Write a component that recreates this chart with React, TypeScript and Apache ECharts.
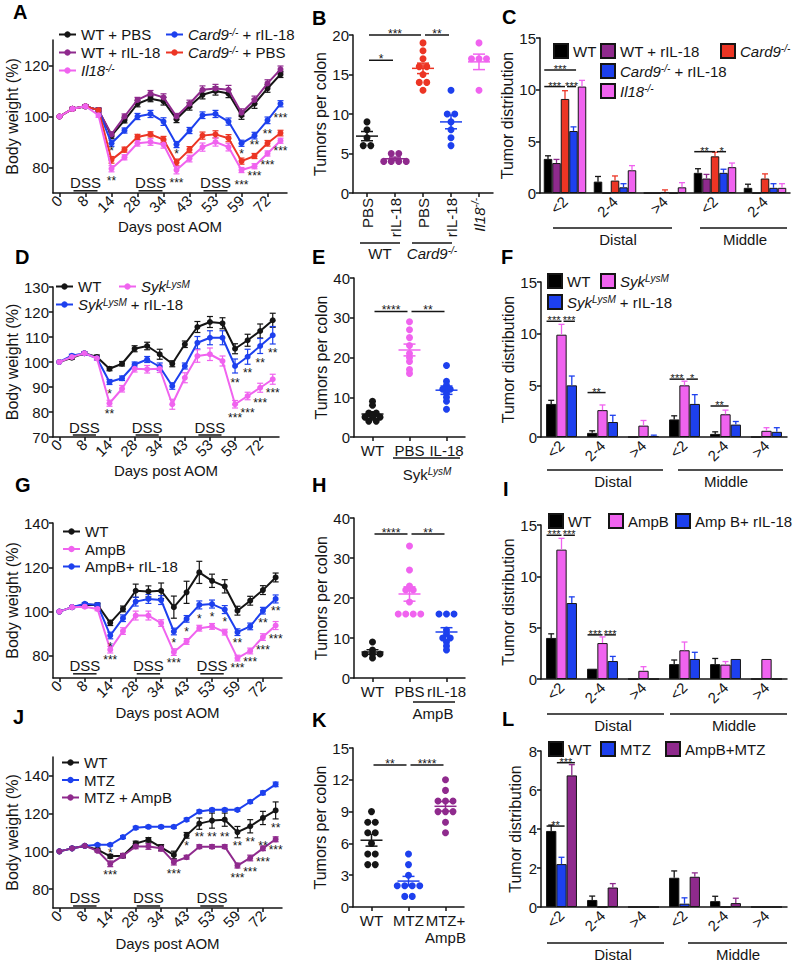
import React, { useEffect, useRef } from 'react';
import * as echarts from 'echarts';

const FONT = '"Liberation Sans", Arial, Helvetica, sans-serif';
const INK = '#151515';
const PURPLE = '#8f2a8d';
const RED = '#ec3524';
const BLUE = '#1d40ee';
const PINK = '#f063ef';

// ---------- tick labels ----------
const dayLabels = ['0', '8', '14', '28', '34', '43', '53', '59', '72'];
const sizeLabels = ['<2', '2-4', '>4'];
const dssAt = [2, 7, 12];

// ---------- Panel A ----------
const aWtPbs = [100, 103, 104, 102.5, 92.5, 98.5, 105, 107, 106, 99, 104, 108.5, 110, 109, 100.5, 105, 111, 116.5];
const aWtPbsErr = [0, 0.6, 0.6, 0.8, 1.2, 1.0, 1.2, 1.2, 1.5, 1.4, 1.5, 1.6, 1.6, 1.6, 1.6, 1.8, 1.5, 1.2];
const aWtIl18 = [100, 103, 104, 102.5, 93, 100, 106.5, 109, 107.5, 100, 105, 110.5, 111, 110.5, 101.5, 106.5, 113, 118.5];
const aWtIl18Err = [0, 0.6, 0.6, 0.8, 1.0, 1.0, 1.0, 1.2, 1.4, 1.2, 1.4, 1.5, 1.6, 1.7, 1.5, 1.5, 1.4, 1.3];
const aCard9Il18 = [100, 103, 104, 102.5, 89.5, 94.5, 100, 101, 98, 89, 94.5, 100.5, 101, 98, 89.5, 92.5, 98.5, 105];
const aCard9Il18Err = [0, 0.5, 0.6, 0.7, 1.2, 1.0, 1.2, 1.4, 1.5, 1.2, 1.2, 1.3, 1.4, 1.4, 1.2, 1.3, 1.3, 1.2];
const aCard9Pbs = [100, 103, 104, 102.5, 83, 87, 92, 93, 91, 82, 87, 92.5, 93, 91.5, 82.5, 84.5, 89.5, 93.5];
const aCard9PbsErr = [0, 0.5, 0.5, 0.7, 1.3, 1.0, 1.0, 1.0, 1.2, 1.3, 1.2, 1.4, 1.4, 1.4, 1.2, 1.0, 1.1, 1.1];
const aIl18 = [100, 103, 104, 100.5, 79.5, 84, 89.5, 90, 89, 79, 83.5, 88, 90, 88, 79, 80.5, 85.5, 90.5];
const aIl18Err = [0, 0.5, 0.5, 0.8, 1.2, 1.0, 1.1, 1.3, 1.4, 1.5, 1.3, 1.6, 1.6, 1.5, 1.0, 1.0, 1.0, 1.0];
const aStars: [number, number, string][] = [[4, 87.5, '*'], [4, 76, '**'], [9, 86.5, '*'], [9, 75, '***'], [14, 86.5, '*'], [14, 74.5, '***'], [15, 90, '**'], [15, 78, '***'], [16, 94.5, '**'], [16, 82, '***'], [17, 100.5, '***'], [17, 87.5, '***']];

// ---------- Panel B ----------
const bWtPbs = [9, 8, 7, 6, 6];
const bWtIl18 = [5, 5, 4, 4, 4, 4];
const bCard9Pbs = [19, 18, 17, 16, 16, 15, 14, 14, 13];
const bCard9Il18 = [13, 10, 10, 9, 8, 7, 6];
const bIl18 = [19, 17, 17, 17, 13];
const bLabels = ['PBS', 'rIL-18', 'PBS', 'rIL-18', '{i|Il18}{s|-/-}'];
const bSig: [number, number, number, string][] = [[0, 2, 20, '***'], [2, 3, 20, '**'], [0, 1, 16.8, '*']];

// ---------- Panel C ----------
const cWt = [3.3, 1.1, 0, 1.95, 0.5];
const cWtErr = [0.3, 0.5, 0, 0.4, 0.35];
const cWtIl18 = [2.9, 0, 0, 1.4, 0];
const cWtIl18Err = [0.35, 0, 0, 0.4, 0];
const cCard9 = [9.1, 1.2, 0.1, 3.55, 1.4];
const cCard9Err = [0.8, 0.45, 0.2, 0.4, 0.45];
const cCard9Il18 = [6.0, 0.55, 0, 1.95, 0.5];
const cCard9Il18Err = [0.4, 0.35, 0, 0.35, 0.4];
const cIl18 = [10.3, 2.2, 0.55, 2.5, 0.5];
const cIl18Err = [0.6, 0.45, 0.45, 0.4, 0.4];
const cSig: [number, number, number, number, string][] = [[0, 0, 3, 11.9, '***'], [0, 0, 2, 10.3, '***'], [0, 2, 3, 10.3, '***'], [3, 0, 2, 4.0, '**'], [3, 2, 3, 4.0, '*']];

// ---------- Panel D ----------
const dWt = [100, 101.7, 103.5, 102, 97.3, 99.3, 105.3, 106.4, 103.1, 99.3, 107.1, 114, 116, 115.5, 105.3, 108.7, 112.4, 116.7];
const dWtErr = [0, 0.6, 0.6, 0.8, 0.8, 0.9, 1.2, 1.5, 2.0, 1.2, 1.3, 2.2, 2.2, 2.2, 2.0, 2.4, 2.8, 2.8];
const dSyk = [100, 102, 103.5, 101.5, 83.5, 89.3, 97.3, 97.1, 97.3, 83.1, 93.7, 102.4, 103.1, 100.4, 83.1, 86.4, 89.7, 93.1];
const dSykErr = [0, 0.6, 0.6, 0.8, 1.2, 1.3, 1.3, 1.5, 1.5, 2.0, 2.0, 2.5, 2.5, 2.0, 1.5, 1.5, 1.8, 2.0];
const dSykIl18 = [100, 102.5, 103.5, 101.5, 92, 93.5, 99, 101, 98.1, 90.4, 98.4, 107.7, 109.7, 109.7, 98.4, 102.1, 106.4, 110.7];
const dSykIl18Err = [0, 0.6, 0.6, 0.8, 1.0, 0.9, 1.0, 1.2, 1.5, 1.3, 1.2, 2.5, 2.8, 2.8, 2.8, 3.0, 3.0, 3.5];
const dStars: [number, number, string][] = [[4, 88.5, '*'], [4, 80.5, '**'], [14, 93, '**'], [14, 79, '***'], [15, 97, '**'], [15, 81, '***'], [16, 101, '**'], [16, 85, '***'], [17, 105, '**'], [17, 89, '***']];

// ---------- Panel E ----------
const eWt = [9, 8, 6, 6, 5, 5, 5, 4, 4];
const eSyk = [29, 27, 25, 23, 21, 20, 19, 17, 16];
const eSykIl18 = [18, 14, 13, 12, 12, 11, 10, 9, 7];
const eLabels = ['WT', 'PBS', 'IL-18'];
const eSig: [number, number, number, string][] = [[0, 1, 31.6, '****'], [1, 2, 31.6, '**']];

// ---------- Panel F ----------
const fWt = [3.2, 0.4, 0, 1.7, 0.3, 0];
const fWtErr = [0.35, 0.2, 0, 0.35, 0.2, 0];
const fSyk = [9.9, 2.6, 1.1, 5.0, 2.2, 0.6];
const fSykErr = [1.0, 0.5, 0.5, 0.4, 0.4, 0.3];
const fSykIl18 = [5.0, 1.45, 0.1, 3.2, 1.2, 0.5];
const fSykIl18Err = [0.9, 0.65, 0.08, 0.9, 0.3, 0.4];
const fSig: [number, number, number, number, string][] = [[0, 0, 1, 11.2, '***'], [0, 1, 2, 11.2, '***'], [1, 0, 1, 4.3, '**'], [3, 0, 1, 5.6, '***'], [3, 1, 2, 5.6, '*'], [4, 0, 1, 3.0, '**']];

// ---------- Panel G ----------
const gWt = [100, 102, 103.1, 103, 94.9, 101.2, 109.4, 109.1, 109.4, 102, 108.7, 117.7, 113.9, 111.4, 100.4, 104.9, 109.7, 115.4];
const gWtErr = [0, 0.6, 0.8, 0.8, 1.2, 1.3, 3.0, 2.5, 3.5, 5.0, 5.0, 5.0, 3.0, 3.0, 2.0, 2.0, 2.0, 2.0];
const gAmpB = [100, 102, 102.2, 101.2, 82.8, 91.2, 98.2, 98.2, 94.8, 81.7, 86.5, 92.5, 93.3, 90.7, 79, 82.2, 88.5, 93.7];
const gAmpBErr = [0, 0.6, 0.6, 0.8, 1.5, 1.5, 2.0, 2.0, 1.5, 1.5, 1.3, 1.3, 1.3, 1.3, 1.3, 1.3, 1.5, 1.8];
const gAmpBIl18 = [100, 102, 103.5, 103, 89.2, 97, 104.5, 105.7, 105.2, 91, 96.7, 103, 103.4, 100.9, 90.7, 93.3, 100.4, 105.7];
const gAmpBIl18Err = [0, 0.6, 0.6, 0.8, 1.5, 1.5, 2.0, 2.0, 2.0, 1.5, 1.5, 1.8, 1.8, 1.8, 1.5, 1.5, 1.5, 1.8];
const gStars: [number, number, string][] = [[4, 85.5, '*'], [4, 79.5, '***'], [9, 87.3, '*'], [9, 78.3, '***'], [10, 92.2, '*'], [11, 98.2, '*'], [12, 98.7, '*'], [13, 96.7, '*'], [14, 87, '**'], [14, 75.7, '***'], [15, 78.7, '***'], [16, 96.4, '**'], [16, 84, '***'], [17, 101.6, '**'], [17, 88.9, '***']];

// ---------- Panel H ----------
const hWt = [9, 7, 6, 6, 6, 5];
const hAmpB = [33, 27, 23, 22, 22, 19, 16, 16, 16, 16];
const hAmpBIl18 = [16, 16, 16, 12, 11, 10, 10, 9, 8, 7];
const hLabels = ['WT', 'PBS', 'rIL-18'];
const hSig: [number, number, number, string][] = [[0, 1, 36, '****'], [1, 2, 36, '**']];

// ---------- Panel I ----------
const iWt = [4.0, 1.0, 0, 1.45, 1.45, 0];
const iWtErr = [0.4, 0, 0, 0.4, 0.55, 0];
const iAmpB = [12.6, 3.5, 0.8, 2.8, 1.4, 1.95];
const iAmpBErr = [1.1, 0.6, 0.4, 0.8, 0.3, 0];
const iAmpBIl18 = [7.4, 1.75, 0, 1.95, 1.95, 0];
const iAmpBIl18Err = [0.6, 0.45, 0, 0.65, 0, 0];
const iSig: [number, number, number, number, string][] = [[0, 0, 1, 14.0, '***'], [0, 1, 2, 14.0, '***'], [1, 0, 1, 4.3, '***'], [1, 1, 2, 4.3, '***']];

// ---------- Panel J ----------
const jWt = [100, 101.6, 102.9, 100.9, 97.4, 97.7, 104.2, 106.1, 102.1, 98.1, 108.5, 114.7, 116.3, 116.8, 110.2, 113.3, 117.7, 121.7];
const jWtErr = [0, 0.6, 0.6, 0.8, 1.0, 1.0, 1.2, 1.2, 1.5, 2.0, 1.5, 3.0, 4.0, 3.5, 3.0, 3.5, 3.5, 4.5];
const jMtz = [100, 101.6, 102.9, 103.5, 103.5, 107.6, 112.5, 113, 113, 113, 116.8, 121.1, 122, 122, 122, 126.3, 131, 135.5];
const jMtzErr = [0, 0.5, 0.5, 0.6, 0.6, 0.8, 0.8, 0.8, 0.8, 0.8, 0.8, 0.8, 0.8, 0.8, 0.8, 0.8, 1.0, 1.2];
const jMtzAmpB = [100, 101.6, 102.9, 100.3, 93.4, 97.7, 102.6, 102.6, 101.6, 94.3, 96.9, 102.5, 102.5, 102.5, 92.5, 96.5, 101.6, 106.4];
const jMtzAmpBErr = [0, 0.5, 0.5, 0.7, 1.5, 1.2, 1.2, 1.5, 1.5, 1.5, 1.0, 1.0, 1.0, 1.0, 1.3, 1.5, 1.2, 1.3];
const jStars: [number, number, string][] = [[4, 100.9, '*'], [4, 89, '***'], [9, 89.4, '***'], [10, 104.7, '*'], [11, 109, '**'], [12, 109, '**'], [13, 109, '**'], [14, 104.7, '**'], [14, 87.7, '***'], [15, 106.8, '**'], [15, 90.8, '***'], [16, 104.7, '**'], [16, 95.7, '***'], [17, 114.2, '**'], [17, 102.1, '***']];

// ---------- Panel K ----------
const kWt = [9, 8, 8, 7, 7, 6, 5, 5, 4, 4];
const kMtz = [5, 4, 3, 2, 2, 2, 2, 1, 1];
const kMtzAmpB = [12, 11, 10, 10, 10, 9, 9, 9, 8, 7];
const kLabels = ['WT', 'MTZ', 'MTZ+\nAmpB'];
const kSig: [number, number, number, string][] = [[0, 1, 13.4, '**'], [1, 2, 13.4, '****']];

// ---------- Panel L ----------
const lWt = [3.9, 0.36, 0, 1.5, 0.3, 0];
const lWtErr = [0.3, 0.2, 0, 0.35, 0.25, 0];
const lMtz = [2.2, 0, 0, 0.17, 0, 0];
const lMtzErr = [0.35, 0, 0, 0.3, 0, 0];
const lAmpBMtz = [6.75, 1.0, 0, 1.55, 0.2, 0];
const lAmpBMtzErr = [0.55, 0.2, 0, 0.2, 0.25, 0];
const lSig: [number, number, number, number, string][] = [[0, 0, 1, 4.15, '**'], [0, 1, 2, 7.4, '***']];

type Ser = { name: string; label: string; color: string; values: number[]; err: number[] };
type Grp = { color: string; values: number[] };

const RICH: any = {
  i: { fontStyle: 'italic', fontFamily: FONT, fontSize: 15, color: INK },
  s: { fontStyle: 'italic', fontFamily: FONT, fontSize: 10, color: INK, verticalAlign: 'top' },
};

const mean = (a: number[]) => a.reduce((s, v) => s + v, 0) / a.length;
const sem = (a: number[]) => {
  const m = mean(a);
  return Math.sqrt(a.reduce((s, v) => s + (v - m) * (v - m), 0) / (a.length - 1)) / Math.sqrt(a.length);
};

function buildOption() {
  const opt: any = { animation: false, backgroundColor: '#ffffff', textStyle: { fontFamily: FONT }, grid: [], xAxis: [], yAxis: [], series: [], legend: [], graphic: [] };
  const display: Record<string, string> = {};
  const AXL = { show: true, lineStyle: { color: INK, width: 1.5 } };
  const TICK = { show: true, length: 4, lineStyle: { color: INK, width: 1.5 } };
  const LBL = { color: INK, fontFamily: FONT, fontSize: 15, rich: RICH };
  const NAME = { color: INK, fontFamily: FONT, fontSize: 16 };
  const txt = (text: string, x: number, y: number, size = 15, extra: any = {}) => ({
    type: 'text', x, y, silent: true,
    style: { text, fill: INK, font: `${size}px ${FONT}`, align: 'center', verticalAlign: 'middle', textAlign: 'center', textVerticalAlign: 'middle', rich: RICH, ...extra },
  });
  const ln = (x1: number, y1: number, x2: number, y2: number) => ({ type: 'line', silent: true, shape: { x1, y1, x2, y2 }, style: { stroke: INK, lineWidth: 1.5 } });

  const addGrid = (r: any) => { opt.grid.push({ ...r }); return opt.grid.length - 1; };
  const addY = (gi: number, name: string, gap: number, min: number, max: number, interval: number, custom?: number[]) => {
    const ax: any = { type: 'value', gridIndex: gi, min, max, interval, name, nameLocation: 'middle', nameGap: gap, nameTextStyle: NAME, axisLine: AXL, axisTick: { ...TICK }, axisLabel: { ...LBL, margin: 4 }, splitLine: { show: false } };
    if (custom) { ax.axisTick.customValues = custom; ax.axisLabel.customValues = custom; }
    opt.yAxis.push(ax);
  };
  const addLegend = (names: string[], left: number, top: number, orient: string, kind: string, gap: number) => {
    opt.legend.push({
      data: names, left, top, orient, itemGap: gap, padding: 0, selectedMode: false,
      itemWidth: kind === 'line' ? 17 : 14, itemHeight: kind === 'line' ? 8 : 14,
      ...(kind === 'bar' ? { icon: 'rect' } : {}),
      textStyle: { ...LBL }, formatter: (n: string) => display[n],
    });
  };
  const starText = (text: string, x: number, y: number, size: number) => ({ type: 'text', x, y, style: { text, fill: INK, font: `${size}px ${FONT}`, align: 'center', verticalAlign: 'middle', textAlign: 'center', textVerticalAlign: 'middle' } });

  // ---- line panel ----
  const linePanel = (rect: any, yMin: number, yMax: number, yInt: number, custom: number[] | undefined, lines: Ser[], stars: [number, number, string][], dssY: number, xGap: number) => {
    const gi = addGrid(rect);
    opt.xAxis.push({
      type: 'category', gridIndex: gi, data: lines[0].values.map((_, i) => String(i)), boundaryGap: true,
      name: 'Days post AOM', nameLocation: 'middle', nameGap: xGap, nameTextStyle: { ...NAME, fontSize: 15 },
      axisLine: AXL, axisTick: { ...TICK, alignWithLabel: true, interval: 1 },
      axisLabel: { ...LBL, interval: 1, rotate: 45, margin: 5, formatter: (_v: string, i: number) => dayLabels[i / 2] ?? '' },
    });
    addY(gi, 'Body weight (%)', 31, yMin, yMax, yInt, custom);
    lines.forEach((l, k) => {
      display[l.name] = l.label;
      opt.series.push({
        type: 'custom', name: l.name + '-err', xAxisIndex: gi, yAxisIndex: gi, silent: true, z: 2,
        data: l.values.map((v, i) => [i, v, l.err[i]]),
        renderItem: (_p: any, api: any) => {
          const i = api.value(0), v = api.value(1), e = api.value(2);
          if (!e) return { type: 'group', children: [] };
          const t = api.coord([i, v + e]), b = api.coord([i, v - e]);
          const st = { stroke: l.color, lineWidth: 1.2 };
          return { type: 'group', children: [
            { type: 'line', shape: { x1: t[0], y1: t[1], x2: b[0], y2: b[1] }, style: st },
            { type: 'line', shape: { x1: t[0] - 3, y1: t[1], x2: t[0] + 3, y2: t[1] }, style: st },
            { type: 'line', shape: { x1: b[0] - 3, y1: b[1], x2: b[0] + 3, y2: b[1] }, style: st },
          ] };
        },
      });
      opt.series.push({ type: 'line', name: l.name, xAxisIndex: gi, yAxisIndex: gi, data: l.values, symbol: 'circle', symbolSize: 6, lineStyle: { color: l.color, width: 2 }, itemStyle: { color: l.color }, z: 3 + k });
    });
    opt.series.push({
      type: 'custom', name: 'stars' + gi, xAxisIndex: gi, yAxisIndex: gi, silent: true, z: 9,
      data: stars.map((s) => [s[0], s[1]]),
      renderItem: (p: any, api: any) => {
        const s = stars[p.dataIndex];
        const c = api.coord([s[0], s[1]]);
        return starText(s[2], c[0], c[1] + 3, 12);
      },
    });
    opt.series.push({
      type: 'custom', name: 'dss' + gi, xAxisIndex: gi, yAxisIndex: gi, silent: true, z: 9,
      data: dssAt.map((i) => [i, dssY]),
      renderItem: (p: any, api: any) => {
        const i = dssAt[p.dataIndex];
        const c = api.coord([i, dssY]), l = api.coord([i - 1, dssY]), r = api.coord([i + 1, dssY]);
        return { type: 'group', children: [
          { type: 'text', x: c[0], y: c[1], style: { text: 'DSS', fill: INK, font: `15px ${FONT}`, align: 'center', verticalAlign: 'middle', textAlign: 'center', textVerticalAlign: 'middle' } },
          { type: 'line', shape: { x1: l[0] + 1, y1: c[1] + 8, x2: r[0] - 1, y2: c[1] + 8 }, style: { stroke: INK, lineWidth: 1.5 } },
        ] };
      },
    });
  };

  // ---- bar panel ----
  const barPanel = (rect: any, yMax: number, yInt: number, bars: Ser[], sig: [number, number, number, number, string][], bw: number) => {
    const gi = addGrid(rect);
    const n = bars.length;
    const off = (s: number) => (s - (n - 1) / 2) * bw;
    opt.xAxis.push({
      type: 'category', gridIndex: gi, data: bars[0].values.map((_, i) => String(i)), boundaryGap: true,
      axisLine: AXL, axisTick: { show: false },
      axisLabel: { ...LBL, interval: 0, rotate: 45, margin: 6, formatter: (_v: string, i: number) => sizeLabels[i % 3] },
    });
    addY(gi, 'Tumor distribution', 18, 0, yMax, yInt);
    bars.forEach((b, s) => {
      display[b.name] = b.label;
      opt.series.push({ type: 'bar', name: b.name, xAxisIndex: gi, yAxisIndex: gi, data: b.values, barWidth: bw, barGap: '0%', itemStyle: { color: b.color, borderColor: INK, borderWidth: 1 }, z: 2 });
      opt.series.push({
        type: 'custom', name: b.name + '-err', xAxisIndex: gi, yAxisIndex: gi, silent: true, z: 3,
        data: b.values.map((v, i) => [i, v, b.err[i]]),
        renderItem: (_p: any, api: any) => {
          const i = api.value(0), v = api.value(1), e = api.value(2);
          if (!e) return { type: 'group', children: [] };
          const base = api.coord([i, v]), top = api.coord([i, v + e]);
          const x = base[0] + off(s);
          const st = { stroke: b.color === '#000000' ? INK : b.color, lineWidth: 1.3 };
          return { type: 'group', children: [
            { type: 'line', shape: { x1: x, y1: base[1], x2: x, y2: top[1] }, style: st },
            { type: 'line', shape: { x1: x - 3, y1: top[1], x2: x + 3, y2: top[1] }, style: st },
          ] };
        },
      });
    });
    opt.series.push({
      type: 'custom', name: 'sig' + gi, xAxisIndex: gi, yAxisIndex: gi, silent: true, z: 9,
      data: sig.map((s) => [s[0], s[3]]),
      renderItem: (p: any, api: any) => {
        const me = sig[p.dataIndex];
        const [g, s1, s2, y, t] = me;
        const c = api.coord([g, y]);
        const sharedLeft = sig.some((o) => o !== me && o[0] === g && o[3] === y && o[2] === s1);
        const sharedRight = sig.some((o) => o !== me && o[0] === g && o[3] === y && o[1] === s2);
        const x1 = c[0] + off(s1) + (sharedLeft ? 2 : -bw / 2 + 0.5);
        const x2 = c[0] + off(s2) + (sharedRight ? 0 : bw * 0.3);
        return { type: 'group', children: [
          { type: 'line', shape: { x1, y1: c[1], x2, y2: c[1] }, style: { stroke: INK, lineWidth: 1.5 } },
          starText(t, (x1 + x2) / 2, c[1] - 1, 11),
        ] };
      },
    });
  };

  // ---- scatter panel ----
  const scatterPanel = (rect: any, yMax: number, yInt: number, groups: Grp[], sig: [number, number, number, string][], labels: string[], rotate: number, yGap: number) => {
    const gi = addGrid(rect);
    opt.xAxis.push({
      type: 'category', gridIndex: gi, data: groups.map((_, i) => String(i)), boundaryGap: true,
      axisLine: AXL, axisTick: { ...TICK, alignWithLabel: true },
      axisLabel: { ...LBL, interval: 0, rotate, margin: 5, lineHeight: 17, formatter: (_v: string, i: number) => labels[i] },
    });
    addY(gi, 'Tumors per colon', yGap, 0, yMax, yInt);
    groups.forEach((g, k) => {
      const counts: Record<number, number> = {};
      const seen: Record<number, number> = {};
      g.values.forEach((v) => { counts[v] = (counts[v] || 0) + 1; });
      const data = g.values.map((v) => {
        const m = counts[v];
        const r = (seen[v] = (seen[v] ?? -1) + 1);
        return { value: [k, v], symbolOffset: [(r - (m - 1) / 2) * 7.5, 0] };
      });
      opt.series.push({ type: 'scatter', name: 'pts' + gi + '-' + k, xAxisIndex: gi, yAxisIndex: gi, data, symbolSize: 7, itemStyle: { color: g.color, opacity: 1 }, z: 3 });
      const m = mean(g.values), se = sem(g.values);
      opt.series.push({
        type: 'custom', name: 'mean' + gi + '-' + k, xAxisIndex: gi, yAxisIndex: gi, silent: true, z: 4,
        data: [[k, m, se]],
        renderItem: (_p: any, api: any) => {
          const i = api.value(0), mv = api.value(1), e = api.value(2);
          const c = api.coord([i, mv]), t = api.coord([i, mv + e]), b = api.coord([i, mv - e]);
          const st = { stroke: g.color, lineWidth: 1.5 };
          return { type: 'group', children: [
            { type: 'line', shape: { x1: c[0] - 11, y1: c[1], x2: c[0] + 11, y2: c[1] }, style: st },
            { type: 'line', shape: { x1: c[0], y1: t[1], x2: c[0], y2: b[1] }, style: st },
            { type: 'line', shape: { x1: c[0] - 6, y1: t[1], x2: c[0] + 6, y2: t[1] }, style: st },
            { type: 'line', shape: { x1: c[0] - 6, y1: b[1], x2: c[0] + 6, y2: b[1] }, style: st },
          ] };
        },
      });
    });
    opt.series.push({
      type: 'custom', name: 'sig' + gi, xAxisIndex: gi, yAxisIndex: gi, silent: true, z: 9,
      data: sig.map((s) => [s[0], s[2]]),
      renderItem: (p: any, api: any) => {
        const [a, b, y, t] = sig[p.dataIndex];
        const c1 = api.coord([a, y]), c2 = api.coord([b, y]);
        const x1 = c1[0] + 2, x2 = c2[0] - 2;
        return { type: 'group', children: [
          { type: 'line', shape: { x1, y1: c1[1], x2, y2: c1[1] }, style: { stroke: INK, lineWidth: 1.5 } },
          starText(t, (x1 + x2) / 2, c1[1] - 1, 12),
        ] };
      },
    });
  };

  // ================= Row 1 =================
  linePanel({ left: 53, top: 40, width: 234, height: 153 }, 70, 130, 10, [80, 100, 120], [
    { name: 'A1', label: 'WT + PBS', color: INK, values: aWtPbs, err: aWtPbsErr },
    { name: 'A2', label: 'WT + rIL-18', color: PURPLE, values: aWtIl18, err: aWtIl18Err },
    { name: 'A4', label: '{i|Card9}{s|-/-} + rIL-18', color: BLUE, values: aCard9Il18, err: aCard9Il18Err },
    { name: 'A5', label: '{i|Card9}{s|-/-} + PBS', color: RED, values: aCard9Pbs, err: aCard9PbsErr },
    { name: 'A3', label: '{i|Il18}{s|-/-}', color: PINK, values: aIl18, err: aIl18Err },
  ], aStars, 74, 26);
  addLegend(['A1', 'A2', 'A3'], 58, 27, 'vertical', 'line', 3);
  addLegend(['A4', 'A5'], 165, 27, 'vertical', 'line', 3);

  scatterPanel({ left: 353, top: 35, width: 140, height: 158 }, 20, 5, [
    { color: INK, values: bWtPbs },
    { color: PURPLE, values: bWtIl18 },
    { color: RED, values: bCard9Pbs },
    { color: BLUE, values: bCard9Il18 },
    { color: PINK, values: bIl18 },
  ], bSig, bLabels, 90, 23);

  barPanel({ left: 540, top: 38, width: 250, height: 155 }, 15, 5, [
    { name: 'C1', label: 'WT', color: '#000000', values: cWt, err: cWtErr },
    { name: 'C2', label: 'WT + rIL-18', color: PURPLE, values: cWtIl18, err: cWtIl18Err },
    { name: 'C3', label: '{i|Card9}{s|-/-}', color: RED, values: cCard9, err: cCard9Err },
    { name: 'C4', label: '{i|Card9}{s|-/-} + rIL-18', color: BLUE, values: cCard9Il18, err: cCard9Il18Err },
    { name: 'C5', label: '{i|Il18}{s|-/-}', color: PINK, values: cIl18, err: cIl18Err },
  ], cSig, 8.5);
  addLegend(['C1'], 553, 43, 'vertical', 'bar', 4);
  addLegend(['C2', 'C4', 'C5'], 600, 43, 'vertical', 'bar', 4);
  addLegend(['C3'], 720, 43, 'vertical', 'bar', 4);

  // ================= Row 2 =================
  linePanel({ left: 53, top: 287, width: 226, height: 150 }, 70, 130, 10, undefined, [
    { name: 'D1', label: 'WT', color: INK, values: dWt, err: dWtErr },
    { name: 'D3', label: '{i|Syk}{s|LysM} + rIL-18', color: BLUE, values: dSykIl18, err: dSykIl18Err },
    { name: 'D2', label: '{i|Syk}{s|LysM}', color: PINK, values: dSyk, err: dSykErr },
  ], dStars, 74, 26);
  addLegend(['D1', 'D3'], 55, 279, 'vertical', 'line', 3);
  addLegend(['D2'], 118, 279, 'vertical', 'line', 3);

  scatterPanel({ left: 354, top: 278, width: 111, height: 159 }, 40, 10, [
    { color: INK, values: eWt },
    { color: PINK, values: eSyk },
    { color: BLUE, values: eSykIl18 },
  ], eSig, eLabels, 0, 24);

  barPanel({ left: 541, top: 282, width: 246, height: 155 }, 15, 5, [
    { name: 'F1', label: 'WT', color: '#000000', values: fWt, err: fWtErr },
    { name: 'F2', label: '{i|Syk}{s|LysM}', color: PINK, values: fSyk, err: fSykErr },
    { name: 'F3', label: '{i|Syk}{s|LysM} + rIL-18', color: BLUE, values: fSykIl18, err: fSykIl18Err },
  ], fSig, 10.3);
  addLegend(['F1', 'F3'], 547, 273, 'vertical', 'bar', 5);
  addLegend(['F2'], 600, 273, 'vertical', 'bar', 5);

  // ================= Row 3 =================
  linePanel({ left: 53, top: 523, width: 229, height: 155 }, 70, 140, 10, [80, 100, 120, 140], [
    { name: 'G1', label: 'WT', color: INK, values: gWt, err: gWtErr },
    { name: 'G3', label: 'AmpB+ rIL-18', color: BLUE, values: gAmpBIl18, err: gAmpBIl18Err },
    { name: 'G2', label: 'AmpB', color: PINK, values: gAmpB, err: gAmpBErr },
  ], gStars, 75.5, 27);
  addLegend(['G1', 'G2', 'G3'], 62, 524, 'vertical', 'line', 2.5);

  scatterPanel({ left: 354, top: 518, width: 111, height: 160 }, 40, 10, [
    { color: INK, values: hWt },
    { color: PINK, values: hAmpB },
    { color: BLUE, values: hAmpBIl18 },
  ], hSig, hLabels, 0, 24);

  barPanel({ left: 541, top: 525, width: 246, height: 154 }, 15, 5, [
    { name: 'I1', label: 'WT', color: '#000000', values: iWt, err: iWtErr },
    { name: 'I2', label: 'AmpB', color: PINK, values: iAmpB, err: iAmpBErr },
    { name: 'I3', label: 'Amp B+ rIL-18', color: BLUE, values: iAmpBIl18, err: iAmpBIl18Err },
  ], iSig, 10.3);
  addLegend(['I1'], 548, 513, 'horizontal', 'bar', 0);
  addLegend(['I2'], 608, 513, 'horizontal', 'bar', 0);
  addLegend(['I3'], 675, 513, 'horizontal', 'bar', 0);

  // ================= Row 4 =================
  linePanel({ left: 53, top: 757, width: 229, height: 151 }, 70, 150, 10, [80, 100, 120, 140], [
    { name: 'J1', label: 'WT', color: INK, values: jWt, err: jWtErr },
    { name: 'J2', label: 'MTZ', color: BLUE, values: jMtz, err: jMtzErr },
    { name: 'J3', label: 'MTZ + AmpB', color: PURPLE, values: jMtzAmpB, err: jMtzAmpBErr },
  ], jStars, 75.3, 28);
  addLegend(['J1', 'J2', 'J3'], 61, 755, 'vertical', 'line', 2.5);

  scatterPanel({ left: 353, top: 748, width: 111, height: 159 }, 15, 3, [
    { color: INK, values: kWt },
    { color: BLUE, values: kMtz },
    { color: PURPLE, values: kMtzAmpB },
  ], kSig, kLabels, 0, 20);

  barPanel({ left: 541, top: 751, width: 246, height: 156 }, 8, 2, [
    { name: 'L1', label: 'WT', color: '#000000', values: lWt, err: lWtErr },
    { name: 'L2', label: 'MTZ', color: BLUE, values: lMtz, err: lMtzErr },
    { name: 'L3', label: 'AmpB+MTZ', color: PURPLE, values: lAmpBMtz, err: lAmpBMtzErr },
  ], lSig, 10.3);
  addLegend(['L1'], 548, 741, 'horizontal', 'bar', 0);
  addLegend(['L2'], 600, 741, 'horizontal', 'bar', 0);
  addLegend(['L3'], 665, 741, 'horizontal', 'bar', 0);

  // ================= decorations =================
  const letter = (t: string, x: number, y: number) => ({ type: 'text', left: x, top: y - 3, silent: true, style: { text: t, fill: '#000', font: `bold 20px ${FONT}` } });
  opt.graphic.push(
    letter('A', 13, 5), letter('B', 312, 11), letter('C', 502, 10),
    letter('D', 15, 250), letter('E', 312, 250), letter('F', 501, 250),
    letter('G', 15, 478), letter('H', 312, 478), letter('I', 503, 482),
    letter('J', 13, 710), letter('K', 312, 713), letter('L', 502, 712),
  );
  // B group labels
  opt.graphic.push(ln(360, 243, 400, 243), ln(412, 243, 452, 243), txt('WT', 380, 253), txt('{i|Card9}{s|-/-}', 432, 253));
  // E group label
  opt.graphic.push(ln(393, 458, 460, 458), txt('Syk{s|LysM}', 427, 474));
  // H group label
  opt.graphic.push(ln(413, 702, 455, 702), txt('AmpB', 433, 713));
  // Distal / Middle
  const region = (y: number, d1: number, d2: number, m1: number, m2: number, dc: number, mc: number) => {
    opt.graphic.push(ln(d1, y, d2, y), ln(m1, y, m2, y), txt('Distal', dc, y + 11), txt('Middle', mc, y + 11));
  };
  region(228, 553, 672, 700, 787, 618, 745);
  region(470, 547, 663, 678, 783, 613, 726);
  region(714, 547, 664, 670, 787, 613, 734);
  region(943, 547, 664, 688, 787, 613, 738);

  return opt;
}

export default function App() {
  const ref = useRef<HTMLDivElement>(null);
  useEffect(() => {
    const chart = echarts.init(ref.current as HTMLDivElement, null, { renderer: 'svg' });
    chart.setOption(buildOption());
    return () => chart.dispose();
  }, []);
  return <div ref={ref} style={{ position: 'fixed', left: 0, top: 0, width: 800, height: 966, background: '#fff' }} />;
}
